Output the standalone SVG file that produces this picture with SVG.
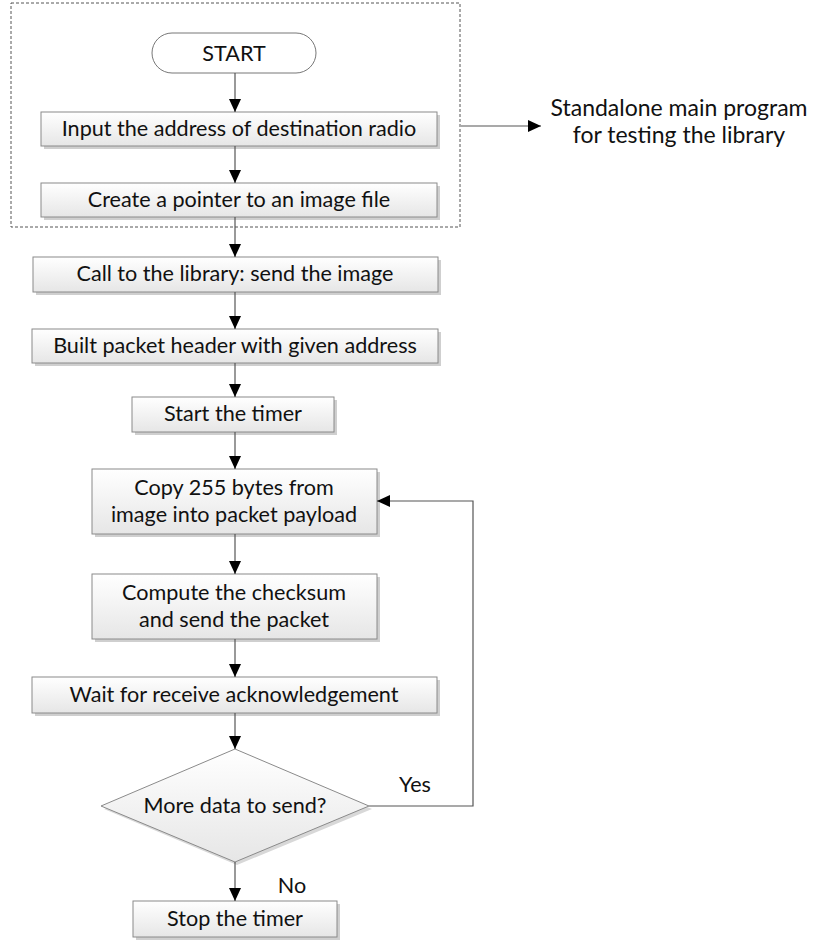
<svg xmlns="http://www.w3.org/2000/svg" width="817" height="941" viewBox="0 0 817 941">
<defs>
<linearGradient id="g" x1="0" y1="0" x2="0" y2="1"><stop offset="0" stop-color="#ffffff"/><stop offset="1" stop-color="#e6e6e6"/></linearGradient>
<marker id="ah" markerUnits="userSpaceOnUse" markerWidth="14" markerHeight="12" refX="13" refY="6" orient="auto"><path d="M0,0 L13,6 L0,12 Z" fill="#000"/></marker>
<style>
.box{fill:url(#g);stroke:#8a8a8a;stroke-width:1}
.sh{fill:#cfcfcf}
.t{font-family:Lato,"Liberation Sans",sans-serif;font-size:21.6px;fill:#111;text-anchor:middle}
.n{font-size:23px}
.c{fill:none;stroke:#555;stroke-width:1.2}
.a{marker-end:url(#ah)}
</style>
</defs>
<rect x="0" y="0" width="817" height="941" fill="#fff"/>
<rect x="11" y="3" width="449" height="224" fill="none" stroke="#555" stroke-width="1" stroke-dasharray="3,2"/>
<g id="start"><rect x="152" y="33" width="164" height="40" rx="20" fill="#fff" stroke="#777"/><text class="t" x="234" y="61">START</text></g>
<g id="input"><rect class="sh" x="44" y="115" width="396" height="34"/><rect class="box" x="41" y="112" width="396" height="34"/><text class="t" x="239" y="136">Input the address of destination radio</text></g>
<g id="create"><rect class="sh" x="44" y="186" width="396" height="34"/><rect class="box" x="41" y="183" width="396" height="34"/><text class="t" x="239" y="207">Create a pointer to an image file</text></g>
<g id="call"><rect class="sh" x="36" y="260" width="405" height="35"/><rect class="box" x="33" y="257" width="405" height="35"/><text class="t" x="235" y="281">Call to the library: send the image</text></g>
<g id="built"><rect class="sh" x="35" y="332" width="406" height="34"/><rect class="box" x="32" y="329" width="406" height="34"/><text class="t" x="235" y="353">Built packet header with given address</text></g>
<g id="starttimer"><rect class="sh" x="135" y="400" width="202" height="35"/><rect class="box" x="132" y="397" width="202" height="35"/><text class="t" x="233" y="421">Start the timer</text></g>
<g id="copy"><rect class="sh" x="95" y="472" width="285" height="65"/><rect class="box" x="92" y="469" width="285" height="65"/><text class="t" x="234" y="495">Copy 255 bytes from</text><text class="t" x="234" y="522">image into packet payload</text></g>
<g id="compute"><rect class="sh" x="95" y="577" width="285" height="65"/><rect class="box" x="92" y="574" width="285" height="65"/><text class="t" x="234" y="600">Compute the checksum</text><text class="t" x="234" y="627">and send the packet</text></g>
<g id="wait"><rect class="sh" x="35" y="680" width="405" height="36"/><rect class="box" x="32" y="677" width="405" height="36"/><text class="t" x="234" y="702">Wait for receive acknowledgement</text></g>
<g id="decision"><path d="M237,752 L372,809 L237,865 L104,809 Z" fill="#d8d8d8"/><path class="box" d="M235,749 L369,806 L235,862 L101,806 Z"/><text class="t" x="235" y="813">More data to send?</text></g>
<g id="stop"><rect class="sh" x="136" y="904" width="204" height="36"/><rect class="box" x="133" y="901" width="204" height="36"/><text class="t" x="235" y="926">Stop the timer</text></g>
<g id="note"><text class="t n" x="679" y="116">Standalone main program</text><text class="t n" x="679" y="143">for testing the library</text></g>
<g id="connectors">
<line class="c a" x1="235" y1="73" x2="235" y2="112"/>
<line class="c a" x1="235" y1="146" x2="235" y2="183"/>
<line class="c a" x1="235" y1="217" x2="235" y2="257"/>
<line class="c a" x1="235" y1="292" x2="235" y2="329"/>
<line class="c a" x1="235" y1="363" x2="235" y2="397"/>
<line class="c a" x1="235" y1="432" x2="235" y2="469"/>
<line class="c a" x1="235" y1="534" x2="235" y2="574"/>
<line class="c a" x1="235" y1="639" x2="235" y2="677"/>
<line class="c a" x1="235" y1="713" x2="235" y2="749"/>
<line class="c a" x1="235" y1="862" x2="235" y2="901"/>
<polyline class="c a" points="369,806 473,806 473,501 377,501"/>
<line class="c a" x1="461" y1="126" x2="541" y2="126"/>
<text class="t" x="415" y="792">Yes</text>
<text class="t" x="292" y="893">No</text>
</g>
</svg>
